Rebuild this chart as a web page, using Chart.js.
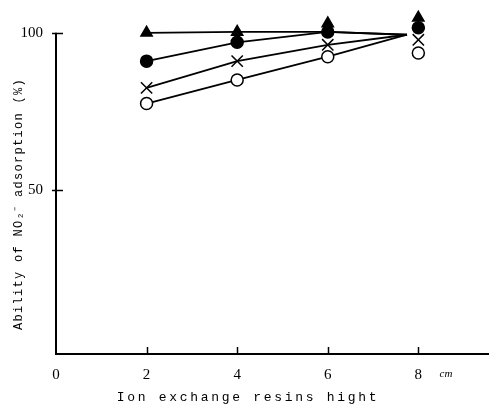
<!DOCTYPE html>
<html>
<head>
<meta charset="utf-8">
<script src="https://cdn.jsdelivr.net/npm/chart.js@4.4.1/dist/chart.umd.min.js"></script>
<style>
  html, body { margin: 0; padding: 0; background: #fff; }
</style>
</head>
<body>
<canvas id="chart" width="489" height="406"></canvas>
<script>
// resin heights (cm) where the markers sit
const heights = [2, 4, 6, 8];
// the connecting lines meet a little left of the 8 cm markers
const lineHeights = [2, 4, 6, 7.75];

// where the connecting lines run (%)
const triangleLine = [100, 100.3, 100.3, 99.4];
const dotLine = [91, 97, 100.3, 99.4];
const crossLine = [82.5, 91, 96.2, 99.4];
const ringLine = [77.5, 85, 92.4, 99.4];

// where the markers are drawn (%), stacked apart at 6 and 8 cm
const triangleMarks = [100, 100.3, 103, 104.8];
const dotMarks = [91, 97, 100.3, 101.6];
const crossMarks = [82.5, 91, 96.2, 97.8];
const ringMarks = [77.5, 85, 92.4, 93.6];

const xTicks = [0, 2, 4, 6, 8];
const yTicks = [50, 100];

const xTitle = "Ion exchange resins hight";
const yTitle = "Ability of NO\u2082\u207B adsorption (%)";
const xUnit = "cm";

function toPoints(xs, ys) {
  return xs.map((x, i) => ({ x, y: ys[i] }));
}

function lineSet(ys) {
  return {
    data: toPoints(lineHeights, ys),
    showLine: true,
    borderColor: "#000",
    borderWidth: 1.8,
    pointRadius: 0,
    clip: false,
    order: 2
  };
}

function markSet(ys, style, fill, radius) {
  return {
    data: toPoints(heights, ys),
    showLine: false,
    pointStyle: style,
    pointRadius: radius,
    pointBackgroundColor: fill,
    pointBorderColor: "#000",
    pointBorderWidth: 1.5,
    clip: false,
    order: 1
  };
}

// axis line, ticks, titles and the unit, drawn the way the printed figure has them
const paperText = {
  id: "paperText",
  afterDraw(chart) {
    const { ctx, chartArea, scales } = chart;
    ctx.save();
    ctx.strokeStyle = "#000";

    // y axis only runs up to 100
    const top = scales.y.getPixelForValue(100);
    ctx.lineWidth = 2;
    ctx.beginPath();
    ctx.moveTo(chartArea.left, top);
    ctx.lineTo(chartArea.left, chartArea.bottom + 1);
    ctx.stroke();

    ctx.lineWidth = 1.5;
    // x ticks point up into the plot
    xTicks.slice(1).forEach(v => {
      const px = Math.round(scales.x.getPixelForValue(v)) + 0.5;
      ctx.beginPath();
      ctx.moveTo(px, chartArea.bottom);
      ctx.lineTo(px, chartArea.bottom - 7);
      ctx.stroke();
    });

    // y ticks cross the axis
    yTicks.forEach(v => {
      const py = Math.round(scales.y.getPixelForValue(v)) + 0.5;
      ctx.beginPath();
      ctx.moveTo(chartArea.left - 4, py);
      ctx.lineTo(chartArea.left + 7, py);
      ctx.stroke();
    });

    ctx.fillStyle = "#000";
    ctx.textBaseline = "middle";

    ctx.font = "13px 'Liberation Mono'";
    ctx.letterSpacing = "2.7px";
    ctx.textAlign = "center";
    ctx.fillText(xTitle, 248, 398);

    ctx.save();
    ctx.translate(19, 204);
    ctx.rotate(-Math.PI / 2);
    ctx.font = "12px 'Liberation Mono'";
    ctx.letterSpacing = "1.3px";
    ctx.fillText(yTitle, 0, 0);
    ctx.restore();

    ctx.letterSpacing = "0px";
    ctx.font = "italic 11px 'Liberation Serif'";
    ctx.fillText(xUnit, 446, 374);

    ctx.restore();
  }
};

new Chart(document.getElementById("chart"), {
  type: "scatter",
  data: {
    datasets: [
      lineSet(triangleLine),
      lineSet(dotLine),
      lineSet(crossLine),
      lineSet(ringLine),
      markSet(triangleMarks, "triangle", "#000", 6.5),
      markSet(dotMarks, "circle", "#000", 6),
      markSet(crossMarks, "crossRot", "#000", 8),
      markSet(ringMarks, "circle", "#fff", 6)
    ]
  },
  options: {
    responsive: false,
    animation: false,
    events: [],
    layout: { autoPadding: false, padding: { top: 14, right: 0, left: 0, bottom: 0 } },
    plugins: {
      legend: { display: false },
      tooltip: { enabled: false }
    },
    scales: {
      x: {
        type: "linear",
        min: 0,
        max: 9.56,
        afterBuildTicks(scale) {
          scale.ticks = xTicks.map(value => ({ value }));
        },
        afterFit(scale) { scale.height = 52; },
        grid: { display: false },
        border: { display: true, color: "#000", width: 2 },
        ticks: {
          color: "#000",
          padding: 4,
          font: { family: "'Liberation Serif'", size: 15 }
        }
      },
      y: {
        min: -2.2,
        max: 106,
        afterBuildTicks(scale) {
          scale.ticks = yTicks.map(value => ({ value }));
        },
        afterFit(scale) { scale.width = 56; },
        grid: { display: false },
        border: { display: false },
        ticks: {
          color: "#000",
          padding: 5,
          font: { family: "'Liberation Serif'", size: 15 }
        }
      }
    }
  },
  plugins: [paperText]
});
</script>
</body>
</html>
